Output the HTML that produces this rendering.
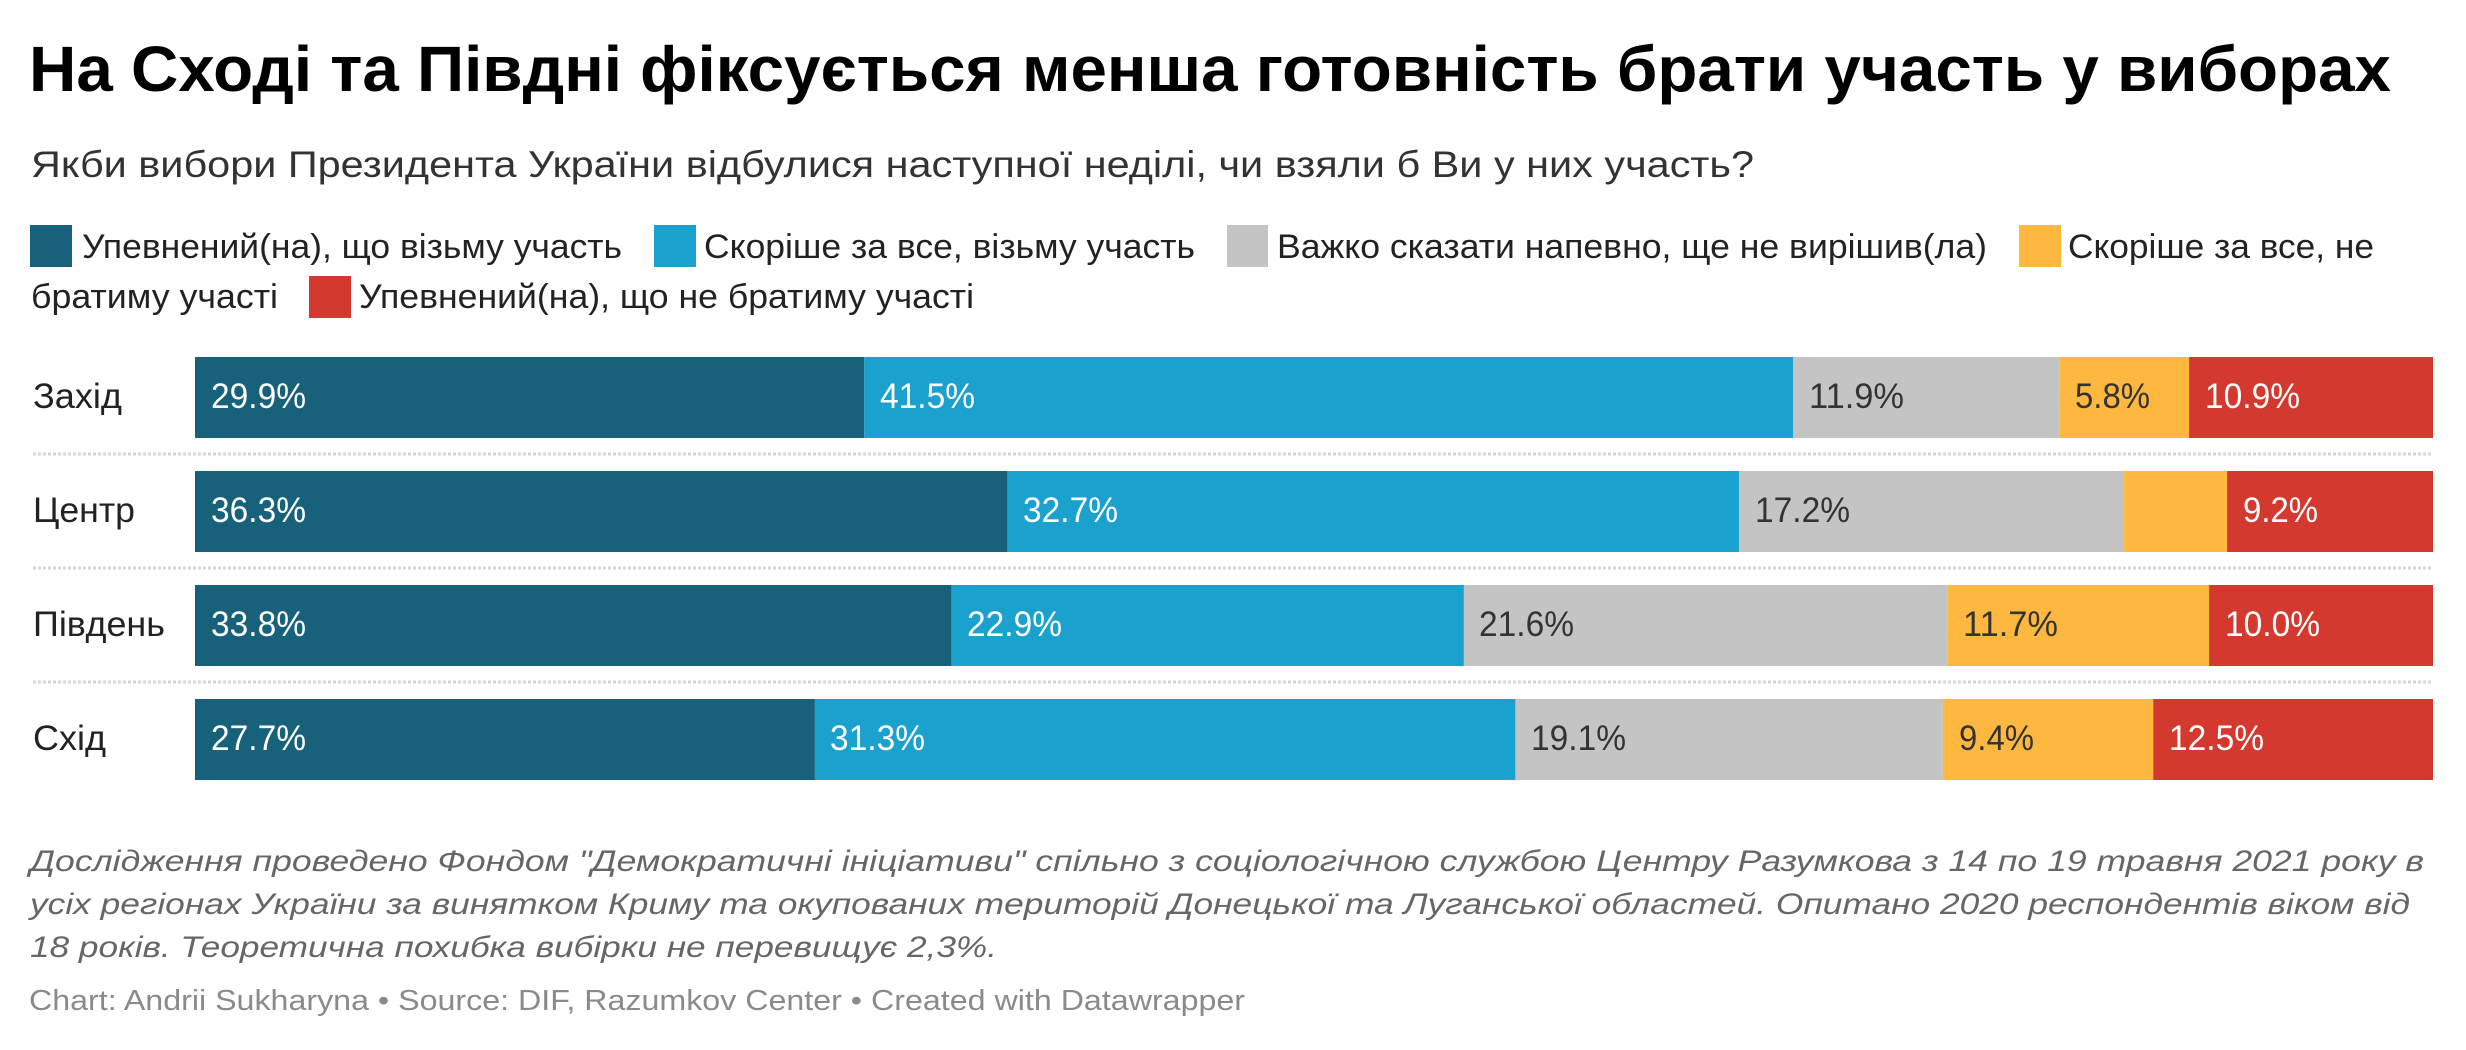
<!DOCTYPE html>
<html>
<head>
<meta charset="utf-8">
<style>
  html, body { margin: 0; padding: 0; background: #ffffff; }
  svg { display: block; }
  text { font-family: "Liberation Sans", "DejaVu Sans", sans-serif; }
</style>
</head>
<body>
<svg width="2466" height="1050" viewBox="0 0 2466 1050" xmlns="http://www.w3.org/2000/svg">
  <rect x="0" y="0" width="2466" height="1050" fill="#ffffff"/>

  <!-- Title -->
  <text x="29" y="91" font-size="64" font-weight="bold" fill="#000" textLength="2362" lengthAdjust="spacingAndGlyphs">На Сході та Півдні фіксується менша готовність брати участь у виборах</text>
  <!-- Subtitle -->
  <text x="31" y="177" font-size="37" fill="#333" textLength="1723" lengthAdjust="spacingAndGlyphs">Якби вибори Президента України відбулися наступної неділі, чи взяли б Ви у них участь?</text>

  <!-- Legend row 1 -->
  <rect x="30" y="225" width="42" height="42" fill="#17617a"/>
  <text x="82" y="258" font-size="34" fill="#222" textLength="540" lengthAdjust="spacingAndGlyphs">Упевнений(на), що візьму участь</text>
  <rect x="654" y="225" width="42" height="42" fill="#1ba1cd"/>
  <text x="704" y="258" font-size="34" fill="#222" textLength="491" lengthAdjust="spacingAndGlyphs">Скоріше за все, візьму участь</text>
  <rect x="1227" y="225" width="41" height="42" fill="#c4c4c4"/>
  <text x="1277" y="258" font-size="34" fill="#222" textLength="710" lengthAdjust="spacingAndGlyphs">Важко сказати напевно, ще не вирішив(ла)</text>
  <rect x="2019" y="225" width="42" height="42" fill="#feb83f"/>
  <text x="2068" y="258" font-size="34" fill="#222" textLength="306" lengthAdjust="spacingAndGlyphs">Скоріше за все, не</text>
  <!-- Legend row 2 -->
  <text x="31" y="308" font-size="34" fill="#222" textLength="247" lengthAdjust="spacingAndGlyphs">братиму участі</text>
  <rect x="309" y="276" width="42" height="42" fill="#d3392e"/>
  <text x="359" y="308" font-size="34" fill="#222" textLength="615" lengthAdjust="spacingAndGlyphs">Упевнений(на), що не братиму участі</text>

  <!-- Dotted separators -->
  <g stroke="#d6d6d6" stroke-width="3" stroke-dasharray="3,2">
    <line x1="33" y1="454" x2="2433" y2="454"/>
    <line x1="33" y1="568" x2="2433" y2="568"/>
    <line x1="33" y1="682" x2="2433" y2="682"/>
  </g>

  <!-- Row labels -->
  <g font-size="35" fill="#222">
    <text x="33" y="408" textLength="89" lengthAdjust="spacingAndGlyphs">Захід</text>
    <text x="33" y="522" textLength="102" lengthAdjust="spacingAndGlyphs">Центр</text>
    <text x="33" y="636" textLength="132" lengthAdjust="spacingAndGlyphs">Південь</text>
    <text x="33" y="750" textLength="73" lengthAdjust="spacingAndGlyphs">Схід</text>
  </g>

  <!-- Bars: Захід -->
  <rect x="195" y="357" width="669.2" height="81" fill="#17617a"/>
  <rect x="864.2" y="357" width="928.8" height="81" fill="#1ba1cd"/>
  <rect x="1793" y="357" width="266.3" height="81" fill="#c4c4c4"/>
  <rect x="2059.3" y="357" width="129.8" height="81" fill="#feb83f"/>
  <rect x="2189.1" y="357" width="243.9" height="81" fill="#d3392e"/>
  <!-- Bars: Центр -->
  <rect x="195" y="471" width="812.4" height="81" fill="#17617a"/>
  <rect x="1007.4" y="471" width="731.8" height="81" fill="#1ba1cd"/>
  <rect x="1739.2" y="471" width="384.9" height="81" fill="#c4c4c4"/>
  <rect x="2124.1" y="471" width="103" height="81" fill="#feb83f"/>
  <rect x="2227.1" y="471" width="205.9" height="81" fill="#d3392e"/>
  <!-- Bars: Південь -->
  <rect x="195" y="585" width="756.4" height="81" fill="#17617a"/>
  <rect x="951.4" y="585" width="512.5" height="81" fill="#1ba1cd"/>
  <rect x="1463.9" y="585" width="483.4" height="81" fill="#c4c4c4"/>
  <rect x="1947.3" y="585" width="261.8" height="81" fill="#feb83f"/>
  <rect x="2209.1" y="585" width="223.9" height="81" fill="#d3392e"/>
  <!-- Bars: Схід -->
  <rect x="195" y="699" width="619.9" height="81" fill="#17617a"/>
  <rect x="814.9" y="699" width="700.5" height="81" fill="#1ba1cd"/>
  <rect x="1515.4" y="699" width="427.5" height="81" fill="#c4c4c4"/>
  <rect x="1942.9" y="699" width="210.3" height="81" fill="#feb83f"/>
  <rect x="2153.2" y="699" width="279.8" height="81" fill="#d3392e"/>

  <!-- Value labels -->
  <g font-size="35">
    <!-- Захід -->
    <text x="211" y="408" fill="#fff" textLength="95" lengthAdjust="spacingAndGlyphs">29.9%</text>
    <text x="880" y="408" fill="#fff" textLength="95" lengthAdjust="spacingAndGlyphs">41.5%</text>
    <text x="1809" y="408" fill="#333" textLength="95" lengthAdjust="spacingAndGlyphs">11.9%</text>
    <text x="2075" y="408" fill="#333" textLength="75" lengthAdjust="spacingAndGlyphs">5.8%</text>
    <text x="2205" y="408" fill="#fff" textLength="95" lengthAdjust="spacingAndGlyphs">10.9%</text>
    <!-- Центр -->
    <text x="211" y="522" fill="#fff" textLength="95" lengthAdjust="spacingAndGlyphs">36.3%</text>
    <text x="1023" y="522" fill="#fff" textLength="95" lengthAdjust="spacingAndGlyphs">32.7%</text>
    <text x="1755" y="522" fill="#333" textLength="95" lengthAdjust="spacingAndGlyphs">17.2%</text>
    <text x="2243" y="522" fill="#fff" textLength="75" lengthAdjust="spacingAndGlyphs">9.2%</text>
    <!-- Південь -->
    <text x="211" y="636" fill="#fff" textLength="95" lengthAdjust="spacingAndGlyphs">33.8%</text>
    <text x="967" y="636" fill="#fff" textLength="95" lengthAdjust="spacingAndGlyphs">22.9%</text>
    <text x="1479" y="636" fill="#333" textLength="95" lengthAdjust="spacingAndGlyphs">21.6%</text>
    <text x="1963" y="636" fill="#333" textLength="95" lengthAdjust="spacingAndGlyphs">11.7%</text>
    <text x="2225" y="636" fill="#fff" textLength="95" lengthAdjust="spacingAndGlyphs">10.0%</text>
    <!-- Схід -->
    <text x="211" y="750" fill="#fff" textLength="95" lengthAdjust="spacingAndGlyphs">27.7%</text>
    <text x="830" y="750" fill="#fff" textLength="95" lengthAdjust="spacingAndGlyphs">31.3%</text>
    <text x="1531" y="750" fill="#333" textLength="95" lengthAdjust="spacingAndGlyphs">19.1%</text>
    <text x="1959" y="750" fill="#333" textLength="75" lengthAdjust="spacingAndGlyphs">9.4%</text>
    <text x="2169" y="750" fill="#fff" textLength="95" lengthAdjust="spacingAndGlyphs">12.5%</text>
  </g>

  <!-- Footnote -->
  <g font-size="30" font-style="italic" fill="#666">
    <text x="30" y="871" textLength="2394" lengthAdjust="spacingAndGlyphs">Дослідження проведено Фондом "Демократичні ініціативи" спільно з соціологічною службою Центру Разумкова з 14 по 19 травня 2021 року в</text>
    <text x="30" y="914" textLength="2380" lengthAdjust="spacingAndGlyphs">усіх регіонах України за винятком Криму та окупованих територій Донецької та Луганської областей. Опитано 2020 респондентів віком від</text>
    <text x="30" y="957" textLength="967" lengthAdjust="spacingAndGlyphs">18 років. Теоретична похибка вибірки не перевищує 2,3%.</text>
  </g>

  <!-- Credit -->
  <text x="29" y="1010" font-size="29" fill="#8a8a8a" textLength="1216" lengthAdjust="spacingAndGlyphs">Chart: Andrii Sukharyna • Source: DIF, Razumkov Center • Created with Datawrapper</text>
</svg>
</body>
</html>
